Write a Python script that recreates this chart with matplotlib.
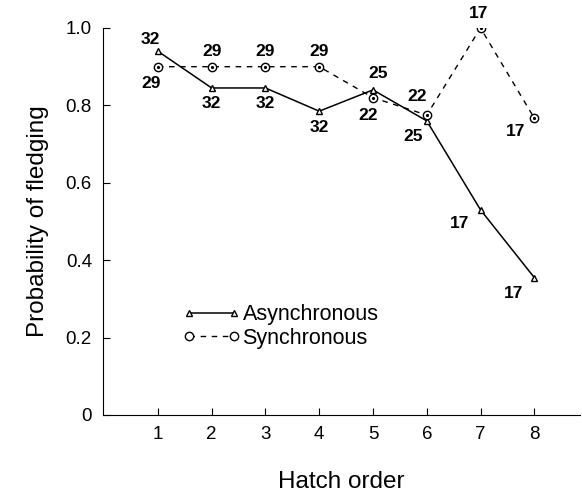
import matplotlib
matplotlib.use("Agg")
import matplotlib.pyplot as plt
from matplotlib.lines import Line2D
from matplotlib.legend_handler import HandlerLine2D

plt.rcParams['font.family'] = ['Liberation Sans', 'DejaVu Sans']

# data
hatch = [1, 2, 3, 4, 5, 6, 7, 8]
asyn = [0.94, 0.845, 0.845, 0.785, 0.84, 0.76, 0.53, 0.355]
syn = [0.90, 0.90, 0.90, 0.90, 0.82, 0.775, 1.0, 0.767]
n_asyn = [32, 32, 32, 32, 25, 25, 17, 17]
n_syn = [29, 29, 29, 29, 22, 22, 17, 17]
yticks = [0, 0.2, 0.4, 0.6, 0.8, 1.0]
ylabels = ['0', '0.2', '0.4', '0.6', '0.8', '1.0']

# label offsets in pixels (dx, dy)
off_asyn = [(-8, 12), (0, -16), (0, -16), (0, -16), (5, 16), (-14, -16), (-21, -14), (-21, -16)]
off_syn = [(-7, -17), (0, 15), (0, 15), (0, 15), (-5, -18), (-10, 19), (-2, 14), (-19, -13)]

fig = plt.figure(figsize=(5.82, 4.98), dpi=100)
ax = fig.add_axes([0.177, 0.1667, 0.8196, 0.7771])

ax.plot(hatch, asyn, color='black', lw=1.1, marker='^', ms=5, mfc='white',
        mec='black', mew=1.0, label='Asynchronous')
ax.plot(hatch, syn, color='black', lw=1.0, ls=(0, (4, 4)), marker='o', ms=6,
        mfc='white', mec='black', mew=1.0, label='Synchronous')
ax.plot(hatch, syn, ls='none', marker='o', ms=1.3, color='black')

for x, y, n, o in zip(hatch, asyn, n_asyn, off_asyn):
    ax.annotate(str(n), (x, y), xytext=o, textcoords='offset pixels',
                ha='center', va='center', fontsize=12.5, fontweight='bold')
for x, y, n, o in zip(hatch, syn, n_syn, off_syn):
    ax.annotate(str(n), (x, y), xytext=o, textcoords='offset pixels',
                ha='center', va='center', fontsize=12.5, fontweight='bold')

ax.set_xlim(-0.02, 8.85)
ax.set_ylim(0, 1.0)
ax.set_xticks(hatch)
ax.set_yticks(yticks)
ax.set_yticklabels(ylabels)
ax.spines['top'].set_visible(False)
ax.spines['right'].set_visible(False)
ax.tick_params(direction='in', length=5, labelsize=13.5, pad=8)
ax.set_xlabel('Hatch order', fontsize=17.5, labelpad=20)
ax.set_ylabel('Probability of fledging', fontsize=17.5, labelpad=12)

ax.legend(loc='center left', bbox_to_anchor=(0.157, 0.229), frameon=False,
          borderpad=0, numpoints=2, handlelength=2.1, handletextpad=0.4,
          fontsize=15.5, labelspacing=0.12,
          handler_map={Line2D: HandlerLine2D(marker_pad=0)})

fig.savefig('out.png', dpi=100)
